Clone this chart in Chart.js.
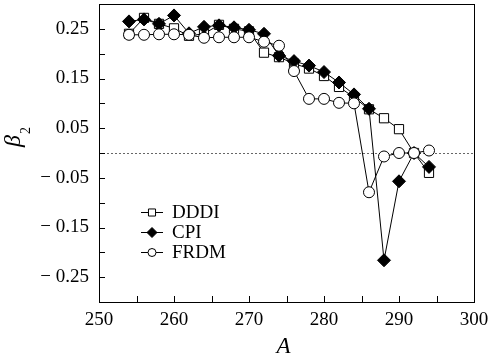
<!DOCTYPE html>
<html>
<head>
<meta charset="utf-8">
<script src="https://cdn.jsdelivr.net/npm/chart.js@4.4.1/dist/chart.umd.min.js"></script>
<style>
  html, body { margin: 0; padding: 0; background: #fff; }
</style>
</head>
<body>
<canvas id="chart" width="490" height="359"></canvas>
<script>
// mass number A and quadrupole deformation beta_2 for the three models
const massNumbers = [254, 256, 258, 260, 262, 264, 266, 268, 270, 272, 274, 276, 278, 280, 282, 284, 286, 288, 290, 292, 294];
const dddiValues = [0.240, 0.272, 0.260, 0.251, 0.236, 0.240, 0.258, 0.250, 0.245, 0.202, 0.193, 0.180, 0.170, 0.155, 0.133, 0.112, 0.088, 0.070, 0.048, 0.000, -0.040];
const cpiValues = [0.265, 0.269, 0.260, 0.277, 0.241, 0.254, 0.257, 0.253, 0.248, 0.240, 0.196, 0.185, 0.176, 0.163, 0.142, 0.118, 0.089, -0.216, -0.057, 0.000, -0.028];
const frdmValues = [0.238, 0.238, 0.239, 0.239, 0.238, 0.232, 0.233, 0.233, 0.233, 0.224, 0.216, 0.165, 0.109, 0.109, 0.101, 0.100, -0.079, -0.007, 0.000, 0.000, 0.005];
const seriesNames = ['DDDI', 'CPI', 'FRDM'];
const xTickLabels = [250, 260, 270, 280, 290, 300];
const yTickLabels = [0.25, 0.15, 0.05, -0.05, -0.15, -0.25];

const serif = '"Liberation Serif", "Times New Roman", serif';

function toPoints(vals) {
    return massNumbers.map((a, i) => ({ x: a, y: vals[i] }));
}

function fmtY(v) {
    const r = Math.round(v * 100) / 100;
    if (!yTickLabels.some(t => Math.abs(t - r) < 1e-6)) return '';
    return r < 0 ? '\u2212 ' + Math.abs(r).toFixed(2) : r.toFixed(2);
}

// frame, inward ticks, dotted zero line, legend and axis titles
const decorations = {
    id: 'decorations',
    beforeDatasetsDraw(chart) {
        const { ctx, chartArea: a, scales: { y } } = chart;
        const y0 = Math.round(y.getPixelForValue(0)) + 0.5;
        ctx.save();
        ctx.strokeStyle = '#666';
        ctx.lineWidth = 1;
        ctx.setLineDash([2, 2]);
        ctx.beginPath();
        ctx.moveTo(a.left, y0);
        ctx.lineTo(a.right, y0);
        ctx.stroke();
        ctx.restore();
    },
    afterDraw(chart) {
        const { ctx, chartArea: a, scales: { x, y } } = chart;
        ctx.save();
        ctx.strokeStyle = '#000';
        ctx.lineWidth = 1;
        ctx.strokeRect(a.left + 0.5, a.top + 0.5, a.right - a.left, a.bottom - a.top);

        ctx.beginPath();
        y.ticks.forEach(t => {
            const py = Math.round(y.getPixelForValue(t.value)) + 0.5;
            if (py <= a.top + 1 || py >= a.bottom - 1) return;
            ctx.moveTo(a.left, py);
            ctx.lineTo(a.left + 6, py);
        });
        x.ticks.forEach(t => {
            const px = Math.round(x.getPixelForValue(t.value)) + 0.5;
            if (px <= a.left + 1 || px >= a.right - 1) return;
            ctx.moveTo(px, a.bottom);
            ctx.lineTo(px, a.bottom - 6);
        });
        ctx.stroke();

        // legend
        const rows = [212, 232, 252];
        chart.data.datasets.forEach((ds, i) => {
            const ry = rows[i] + 0.5;
            ctx.strokeStyle = '#000';
            ctx.beginPath();
            ctx.moveTo(141, ry);
            ctx.lineTo(163, ry);
            ctx.stroke();
            ctx.fillStyle = ds.pointBackgroundColor;
            ctx.strokeStyle = '#000';
            Chart.helpers.drawPoint(ctx, {
                pointStyle: ds.pointStyle,
                radius: ds.legendRadius,
                borderWidth: 1,
                rotation: 0
            }, 152, ry);
            ctx.fillStyle = '#000';
            ctx.font = '19px ' + serif;
            ctx.textAlign = 'left';
            ctx.textBaseline = 'middle';
            ctx.fillText(ds.label, 172, rows[i] + 1);
        });

        // axis titles
        ctx.fillStyle = '#000';
        ctx.textAlign = 'center';
        ctx.textBaseline = 'alphabetic';
        ctx.font = 'italic 23px ' + serif;
        ctx.fillText('A', (a.left + a.right) / 2 - 3, 353);

        ctx.translate(20, 147);
        ctx.rotate(-Math.PI / 2);
        ctx.textAlign = 'left';
        ctx.font = 'italic 24px ' + serif;
        ctx.fillText('\u03B2', 0, 0);
        const bw = ctx.measureText('\u03B2').width;
        ctx.font = '14px ' + serif;
        ctx.fillText('2', bw + 1, 10);
        ctx.restore();
    }
};

const ctx = document.getElementById('chart').getContext('2d');
new Chart(ctx, {
    type: 'line',
    data: {
        datasets: [
            {
                label: seriesNames[0],
                data: toPoints(dddiValues),
                pointStyle: 'rect',
                pointRadius: 6.5,
                legendRadius: 5,
                pointBackgroundColor: '#fff',
                order: 3
            },
            {
                label: seriesNames[1],
                data: toPoints(cpiValues),
                pointStyle: 'rectRot',
                pointRadius: 6.5,
                legendRadius: 5,
                pointBackgroundColor: '#000',
                order: 2
            },
            {
                label: seriesNames[2],
                data: toPoints(frdmValues),
                pointStyle: 'circle',
                pointRadius: 5.5,
                legendRadius: 4,
                pointBackgroundColor: '#fff',
                order: 1
            }
        ].map(ds => Object.assign({
            borderColor: '#000',
            borderWidth: 1,
            pointBorderColor: '#000',
            pointBorderWidth: 1,
            tension: 0,
            fill: false,
            clip: false
        }, ds))
    },
    options: {
        responsive: false,
        animation: false,
        events: [],
        layout: { autoPadding: false, padding: { top: 4, right: 16, left: 0, bottom: 0 } },
        plugins: {
            legend: { display: false },
            tooltip: { enabled: false }
        },
        scales: {
            x: {
                type: 'linear',
                min: 250,
                max: 300,
                grid: { drawOnChartArea: false, drawTicks: false },
                border: { display: true, color: '#000', width: 1 },
                ticks: {
                    stepSize: 5,
                    autoSkip: false,
                    maxRotation: 0,
                    padding: 7,
                    color: '#000',
                    font: { family: serif, size: 19 },
                    callback: v => xTickLabels.includes(v) ? String(v) : ''
                },
                afterFit: scale => {
                    scale.height = 57;
                    scale.paddingLeft = 0;
                    scale.paddingRight = 0;
                }
            },
            y: {
                type: 'linear',
                min: -0.3,
                max: 0.3,
                grid: { drawOnChartArea: false, drawTicks: false },
                border: { display: true, color: '#000', width: 1 },
                ticks: {
                    stepSize: 0.05,
                    autoSkip: false,
                    padding: 10,
                    color: '#000',
                    font: { family: serif, size: 19 },
                    callback: v => fmtY(v)
                },
                afterFit: scale => {
                    scale.width = 99;
                    scale.paddingTop = 0;
                    scale.paddingBottom = 0;
                }
            }
        }
    },
    plugins: [decorations]
});
</script>
</body>
</html>
